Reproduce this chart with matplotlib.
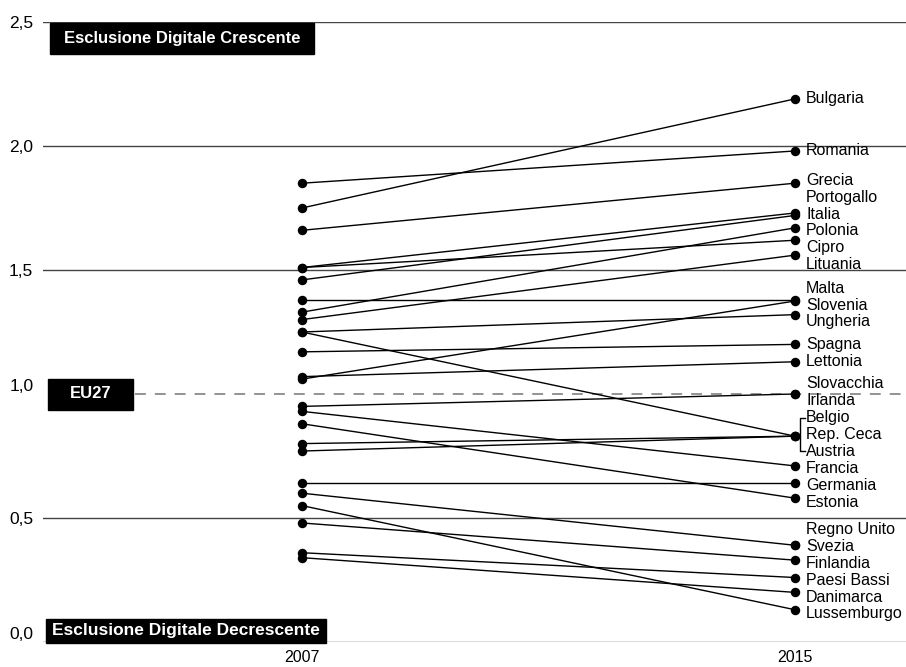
import numpy as np
import matplotlib.pyplot as plt
from matplotlib.patches import Rectangle

plt.rcParams['font.family'] = ['Liberation Sans', 'DejaVu Sans']

# Data (index normalised, EU27 = 1)
countries = ['Bulgaria', 'Romania', 'Grecia', 'Portogallo', 'Italia', 'Polonia', 'Cipro',
             'Lituania', 'Malta', 'Slovenia', 'Ungheria', 'Spagna', 'Lettonia', 'Slovacchia',
             'Irlanda', 'Belgio', 'Rep. Ceca', 'Austria', 'Francia', 'Germania', 'Estonia',
             'Regno Unito', 'Svezia', 'Finlandia', 'Paesi Bassi', 'Danimarca', 'Lussemburgo']
val_2007 = [1.75, 1.85, 1.66, 1.51, 1.46, 1.33, 1.51,
            1.30, 1.38, 1.06, 1.25, 1.17, 1.07, 0.95,
            None, 1.25, 0.80, 0.77, 0.93, 0.64, 0.88,
            None, 0.60, 0.48, 0.36, 0.34, 0.55]
val_2015 = [2.19, 1.98, 1.85, 1.73, 1.72, 1.67, 1.62,
            1.56, 1.38, 1.375, 1.32, 1.20, 1.13, 1.00,
            1.00, 0.83, 0.83, 0.83, 0.71, 0.64, 0.58,
            0.39, 0.39, 0.33, 0.26, 0.20, 0.13]
years = [2007, 2015]
y_ticks = [0.0, 0.5, 1.0, 1.5, 2.0, 2.5]
y_tick_labels = ['0,0', '0,5', '1,0', '1,5', '2,0', '2,5']
grid_levels = [0.0, 0.5, 1.5, 2.0, 2.5]
eu27 = 1.0

W, H = 906, 667
fig = plt.figure(figsize=(W / 100, H / 100), dpi=100)
ax = fig.add_axes([43 / W, 1 - 642 / H, 1 - 43 / W, (642 - 22) / H])
ax.set_xlim(2002.8, 2016.8)
ax.set_ylim(0, 2.5)
for s in ax.spines.values():
    s.set_visible(False)

for g in grid_levels:
    ax.axhline(g, color='#444444', lw=1.0, zorder=1)
ax.axhline(eu27, xmin=(135 - 43) / (W - 43), xmax=1, color='#8a8a8a', lw=1.3,
           dashes=(6, 5), zorder=1)

# slope lines
for v0, v1 in zip(val_2007, val_2015):
    if v0 is not None:
        ax.plot(years, [v0, v1], color='black', lw=1.0, zorder=2)
        ax.plot(years[0], v0, 'o', color='black', ms=5.8, zorder=3)
    ax.plot(years[1], v1, 'o', color='black', ms=5.8, zorder=3)

# spread labels so they don't overlap
gap = 0.068
v = np.array(val_2015, dtype=float)
order = np.argsort(-v, kind='stable')
groups = []
for i in order:
    groups.append([i])
    while len(groups) > 1:
        a, b = groups[-2], groups[-1]
        ca = v[a].mean() + gap * (len(a) - 1) / 2
        cb = v[b].mean() + gap * (len(b) - 1) / 2
        if ca - gap * (len(a) - 1) - gap < cb:
            groups[-2:] = [a + b]
        else:
            break
label_y = np.zeros(len(v))
for grp in groups:
    top = v[grp].mean() + gap * (len(grp) - 1) / 2
    for k, i in enumerate(grp):
        label_y[i] = top - k * gap

for name, ly in zip(countries, label_y):
    ax.annotate(name, xy=(years[1], ly), xytext=(8, 0), textcoords='offset points',
                va='center', ha='left', fontsize=11.5)

# bracket for the Belgio / Rep. Ceca / Austria cluster
px = (ax.get_xlim()[1] - ax.get_xlim()[0]) / (W - 43)
yb, ya = label_y[countries.index('Belgio')], label_y[countries.index('Austria')]
bx = years[1] + 5 * px
ax.plot([bx + 5 * px, bx, bx, bx + 5 * px], [yb, yb, ya, ya], color='black', lw=1.0, zorder=2)

ax.set_yticks(y_ticks)
ax.set_yticklabels(y_tick_labels, fontsize=12.5)
for lab in ax.get_yticklabels():
    if lab.get_text() in ('0,0', '1,0'):
        lab.set_va('bottom')
ax.set_xticks(years)
ax.set_xticklabels([str(y) for y in years], fontsize=11.5)
ax.tick_params(length=0)
ax.tick_params(axis='y', pad=7)
ax.tick_params(axis='x', pad=6)


def black_box(x0, y0, x1, y1, text, size):
    fig.patches.append(Rectangle((x0 / W, 1 - y1 / H), (x1 - x0) / W, (y1 - y0) / H,
                                 transform=fig.transFigure, color='black', zorder=5))
    fig.text((x0 + x1) / 2 / W, 1 - (y0 + y1) / 2 / H, text, color='white',
             fontweight='bold', fontsize=size, ha='center', va='center', zorder=6)


black_box(50, 23, 314, 54, 'Esclusione Digitale Crescente', 12)
black_box(46, 619, 326, 643, 'Esclusione Digitale Decrescente', 12.5)
# EU27 box centred on the dashed reference line
eu_px = H - ax.transData.transform((years[0], eu27))[1]
black_box(48, eu_px - 15.5, 133, eu_px + 15.5, 'EU27', 12)

fig.savefig('out.png', dpi=100)
